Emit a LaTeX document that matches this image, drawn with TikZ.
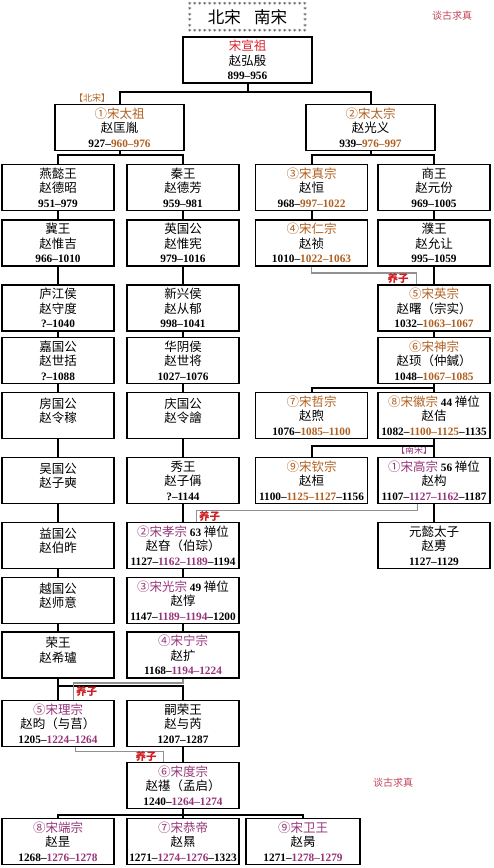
\documentclass[tikz,border=0pt]{standalone}
\usepackage{fontspec}
\setmainfont{Noto Sans CJK SC}
\newfontfamily\numfont{Liberation Serif}

\definecolor{nsong}{RGB}{176,96,32}
\definecolor{ssong}{RGB}{150,52,120}
\definecolor{xuan}{RGB}{215,35,45}
\definecolor{adoptred}{RGB}{205,30,35}
\definecolor{tanred}{RGB}{195,70,90}
\definecolor{adoptgray}{RGB}{145,145,145}

\newcommand\nr[1]{\textcolor{nsong}{#1}}
\newcommand\sr[1]{\textcolor{ssong}{#1}}
\newcommand\yrs[1]{{\numfont\bfseries\fontsize{11.3}{14.5}\selectfont #1}}
\newcommand\twoline[2]{#1\\#2\\[-4pt]\mbox{}}

\tikzset{
  fam/.style={draw, line width=1.5pt, minimum width=112pt, minimum height=46pt,
    inner sep=0pt, align=center, font=\fontsize{12.5}{14.5}\selectfont},
  link/.style={line width=2pt},
  adopt/.style={line width=1.5pt, color=adoptgray},
  adoptlbl/.style={text=adoptred, font=\fontsize{10.5}{12}\selectfont\bfseries, inner sep=1pt},
  astk/.style={inner sep=0pt, font=\fontsize{7}{7}\selectfont},
  era/.style={font=\fontsize{9}{10}\selectfont, inner sep=0pt},
}

\begin{document}
\begin{tikzpicture}[x=1pt,y=-1pt]
\useasboundingbox (0,0) rectangle (493,868);

  % title framed by asterisks
  \node[minimum width=115pt, minimum height=27pt, inner sep=0pt,
    font=\fontsize{16.5}{16.5}\selectfont] (title) at (247.5,17.5) {北宋\hspace{0.8em}南宋};
  \foreach \i in {0,...,23} {
    \node[astk] (astt\i) at ([xshift=\i*5pt]title.north west) {$\ast$};
    \node[astk] (astb\i) at ([xshift=\i*5pt]title.south west) {$\ast$};
  }
  \foreach \j in {1,...,4} {
    \node[astk] (astl\j) at ([yshift=-\j*5.4pt]title.north west) {$\ast$};
    \node[astk] (astr\j) at ([yshift=-\j*5.4pt]title.north east) {$\ast$};
  }

  \node[text=tanred, font=\fontsize{10}{10}\selectfont] (tan1) at (452,16) {谈古求真};
  \node[text=tanred, font=\fontsize{10}{10}\selectfont] (tan2) at (393,783) {谈古求真};

  % era labels
  \node[era, text=nsong] (bei) at (92,98) {【北宋】};
  \node[era, text=ssong] (nan) at (414,450) {【南宋】};

  % root and the two brothers
  \node[fam, minimum width=129pt] (xuanzu) at (247.5,60) {\textcolor{xuan}{宋宣祖}\\赵弘殷\\\yrs{899–956}};
  \node[fam, minimum width=129pt] (taizu) at (119.5,127.5) {\nr{①宋太祖}\\赵匡胤\\\yrs{927–\nr{960–976}}};
  \node[fam, minimum width=129pt] (taizong) at (370.5,127.5) {\nr{②宋太宗}\\赵光义\\\yrs{939–\nr{976–997}}};

  % row 3
  \node[fam] (dezhao) at (58,187.5) {燕懿王\\赵德昭\\\yrs{951–979}};
  \node[fam] (defang) at (183,187.5) {秦王\\赵德芳\\\yrs{959–981}};
  \node[fam] (zhenzong) at (311.5,187.5) {\nr{③宋真宗}\\赵恒\\\yrs{968–\nr{997–1022}}};
  \node[fam] (yuanfen) at (434,187.5) {商王\\赵元份\\\yrs{969–1005}};

  % row 4
  \node[fam] (weiji) at (58,243) {冀王\\赵惟吉\\\yrs{966–1010}};
  \node[fam] (weixian) at (183,243) {英国公\\赵惟宪\\\yrs{979–1016}};
  \node[fam] (renzong) at (311.5,243) {\nr{④宋仁宗}\\赵祯\\\yrs{1010–\nr{1022–1063}}};
  \node[fam] (yunrang) at (434,243) {濮王\\赵允让\\\yrs{995–1059}};

  % row 5
  \node[fam] (shoudu) at (58,308) {庐江侯\\赵守度\\\yrs{?–1040}};
  \node[fam] (congyu) at (183,308) {新兴侯\\赵从郁\\\yrs{998–1041}};
  \node[fam] (yingzong) at (434,308) {\nr{⑤宋英宗}\\赵曙（宗实）\\\yrs{1032–\nr{1063–1067}}};

  % row 6
  \node[fam] (shikuo) at (58,360.5) {嘉国公\\赵世括\\\yrs{?–1088}};
  \node[fam] (shijiang) at (183,360.5) {华阴侯\\赵世将\\\yrs{1027–1076}};
  \node[fam] (shenzong) at (434,360.5) {\nr{⑥宋神宗}\\赵顼（仲鍼）\\\yrs{1048–\nr{1067–1085}}};

  % row 7
  \node[fam] (lingjia) at (58,415.5) {\twoline{房国公}{赵令稼}};
  \node[fam] (linghui) at (183,415.5) {\twoline{庆国公}{赵令譮}};
  \node[fam] (zhezong) at (311.5,415.5) {\nr{⑦宋哲宗}\\赵煦\\\yrs{1076–\nr{1085–1100}}};
  \node[fam] (huizong) at (434,415.5) {\nr{⑧宋徽宗} \yrs{44} 禅位\\赵佶\\\yrs{1082–\nr{1100–1125}–1135}};

  % row 8
  \node[fam] (zishi) at (58,480.5) {\twoline{吴国公}{赵子奭}};
  \node[fam] (zicheng) at (183,480.5) {秀王\\赵子偁\\\yrs{?–1144}};
  \node[fam] (qinzong) at (311.5,480.5) {\nr{⑨宋钦宗}\\赵桓\\\yrs{1100–\nr{1125–1127}–1156}};
  \node[fam] (gaozong) at (434,480.5) {\sr{①宋高宗} \yrs{56} 禅位\\赵构\\\yrs{1107–\sr{1127–1162}–1187}};

  % row 9
  \node[fam] (boyu) at (58,545.5) {\twoline{益国公}{赵伯昨}};
  \node[fam] (xiaozong) at (183,545.5) {\sr{②宋孝宗} \yrs{63} 禅位\\赵昚（伯琮）\\\yrs{1127–\sr{1162–1189}–1194}};
  \node[fam] (yuanyi) at (434,545.5) {元懿太子\\赵旉\\\yrs{1127–1129}};

  % row 10
  \node[fam] (shiyi) at (58,600.5) {\twoline{越国公}{赵师意}};
  \node[fam] (guangzong) at (183,600.5) {\sr{③宋光宗} \yrs{49} 禅位\\赵惇\\\yrs{1147–\sr{1189–1194}–1200}};

  % row 11
  \node[fam] (xilu) at (58,655) {\twoline{荣王}{赵希瓐}};
  \node[fam] (ningzong) at (183,655) {\sr{④宋宁宗}\\赵扩\\\yrs{1168–\sr{1194–1224}}};

  % row 12
  \node[fam] (lizong) at (58,723.5) {\sr{⑤宋理宗}\\赵昀（与莒）\\\yrs{1205–\sr{1224–1264}}};
  \node[fam] (yurui) at (183,723.5) {嗣荣王\\赵与芮\\\yrs{1207–1287}};

  % row 13
  \node[fam] (duzong) at (183,785.5) {\sr{⑥宋度宗}\\赵禥（孟启）\\\yrs{1240–\sr{1264–1274}}};

  % row 14
  \node[fam] (duanzong) at (58,841.5) {\sr{⑧宋端宗}\\赵昰\\\yrs{1268–\sr{1276–1278}}};
  \node[fam] (gongdi) at (183,841.5) {\sr{⑦宋恭帝}\\赵㬎\\\yrs{1271–\sr{1274–1276}–1323}};
  \node[fam, minimum width=114pt] (weiwang) at (303,841.5) {\sr{⑨宋卫王}\\赵昺\\\yrs{1271–\sr{1278–1279}}};

  % branching links
  \draw[link] (xuanzu.south) -- ++(0,8) -| (taizu.north);
  \draw[link] (xuanzu.south) -- ++(0,8) -| (taizong.north);
  \draw[link] (taizu.south) -- ++(0,4) -| (dezhao.north);
  \draw[link] (taizu.south) -- ++(0,4) -| (defang.north);
  \draw[link] (taizong.south) -- ++(0,4) -| (zhenzong.north);
  \draw[link] (taizong.south) -- ++(0,4) -| (yuanfen.north);
  \draw[link] (shenzong.south) -- ++(0,4) -| (zhezong.north);
  \draw[link] (huizong.south) -- ++(0,7) -| (qinzong.north);
  \draw[link] (xilu.south) -- ++(0,7) -| (yurui.north);
  \draw[link] (duzong.south) -- ++(0,6) -| (duanzong.north);
  \draw[link] (duzong.south) -- ++(0,6) -| (weiwang.north);

  % straight father-son links
  \foreach \a/\b in {dezhao/weiji, weiji/shoudu, shoudu/shikuo, shikuo/lingjia,
      lingjia/zishi, zishi/boyu, boyu/shiyi, shiyi/xilu, xilu/lizong,
      defang/weixian, weixian/congyu, congyu/shijiang, shijiang/linghui,
      linghui/zicheng, zicheng/xiaozong, xiaozong/guangzong, guangzong/ningzong,
      yurui/duzong, duzong/gongdi, zhenzong/renzong, yuanfen/yunrang,
      yunrang/yingzong, yingzong/shenzong, shenzong/huizong, huizong/gaozong,
      gaozong/yuanyi}
    \draw[link] (\a) -- (\b);

  % adoptions
  \draw[adopt] (renzong.south) -- ++(0,6)
    -| node[adoptlbl, pos=0.75, left=6pt] (adopt1) {养子} ([xshift=39pt]yingzong.north west);
  \draw[adopt] ([xshift=40pt]gaozong.south west) -- ++(0,6)
    -| node[adoptlbl, pos=0.75, right=1pt] (adopt2) {养子} ([xshift=70pt]xiaozong.north west);
  \draw[adopt] (ningzong.south) -- ++(0,4)
    -| node[adoptlbl, pos=0.75, right=1pt] (adopt3) {养子} ([xshift=72pt]lizong.north west);
  \draw[adopt] ([xshift=74pt]lizong.south west) -- ++(0,4)
    -| node[adoptlbl, pos=0.75, left=5pt] (adopt4) {养子} ([xshift=37pt]duzong.north west);

\end{tikzpicture}
\end{document}
